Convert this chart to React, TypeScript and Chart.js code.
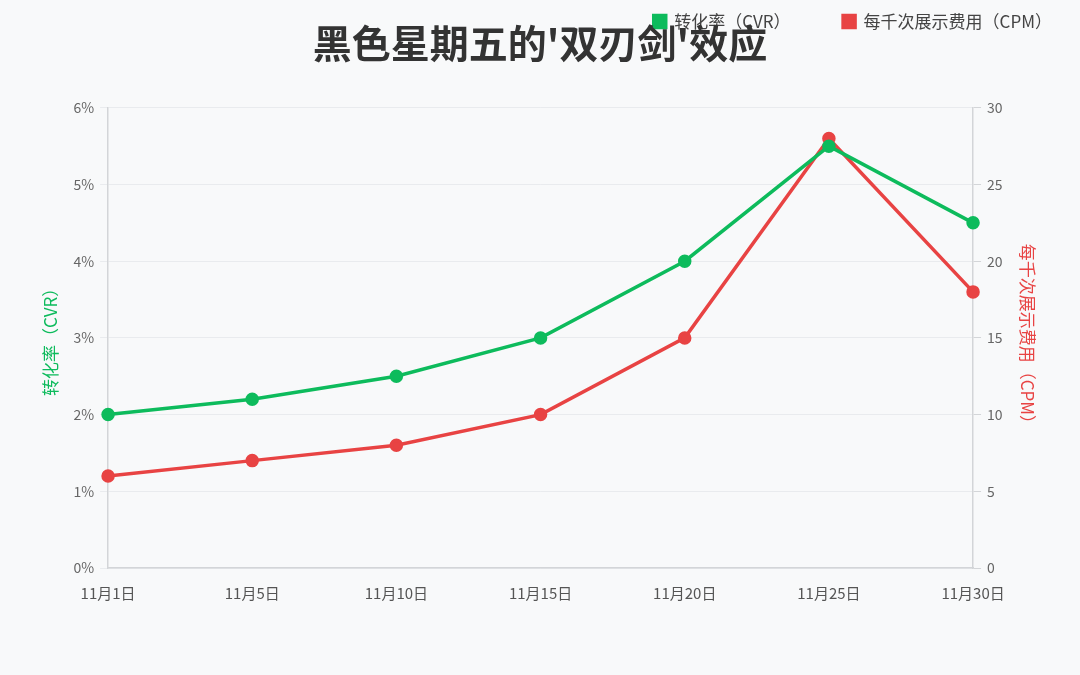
import React, { useEffect, useRef } from "react";
import { Chart, registerables } from "chart.js";

Chart.register(...registerables);

const categories = ["11月1日", "11月5日", "11月10日", "11月15日", "11月20日", "11月25日", "11月30日"];
const cvrValues = [2.0, 2.2, 2.5, 3.0, 4.0, 5.5, 4.5];
const cpmValues = [6, 7, 8, 10, 15, 28, 18];
const cvrLabel = "转化率（CVR）";
const cpmLabel = "每千次展示费用（CPM）";
const titleText = "黑色星期五的'双刃剑'效应";

const GREEN = "#0dbb5c";
const RED = "#e84343";
const FONT = "'Noto Sans CJK SC', sans-serif";

export default function App() {
  const ref = useRef<HTMLCanvasElement | null>(null);

  useEffect(() => {
    document.body.style.margin = "0";
    document.body.style.background = "#f8f9fa";
    const canvas = ref.current;
    if (!canvas) return;
    Chart.defaults.font.family = FONT;
    const chart = new Chart(canvas, {
      type: "line",
      data: {
        labels: categories,
        datasets: [
          {
            label: cvrLabel,
            data: cvrValues,
            yAxisID: "y",
            borderColor: GREEN,
            backgroundColor: GREEN,
            borderWidth: 3.5,
            pointRadius: 5,
            pointBackgroundColor: GREEN,
            pointBorderColor: GREEN,
            tension: 0,
          },
          {
            label: cpmLabel,
            data: cpmValues,
            yAxisID: "y1",
            borderColor: RED,
            backgroundColor: RED,
            borderWidth: 3.5,
            pointRadius: 5,
            pointBackgroundColor: RED,
            pointBorderColor: RED,
            tension: 0,
          },
        ],
      },
      options: {
        animation: false,
        responsive: false,
        maintainAspectRatio: false,
        layout: { padding: { top: 3, left: 18, right: 18, bottom: 65 } },
        plugins: {
          legend: {
            position: "top",
            align: "end",
            weight: 3000,
            labels: {
              boxWidth: 12,
              boxHeight: 12,
              padding: 10,
              color: "#444",
              font: { size: 17, family: FONT },
              generateLabels: (chart: any) => {
                const items = Chart.defaults.plugins.legend.labels.generateLabels(chart);
                return items.map((it: any, i: number) =>
                  i < items.length - 1 ? { ...it, text: it.text + "\u3000\u3000\u3000" } : it
                );
              },
            },
          } as any,
          title: {
            display: true,
            text: titleText,
            color: "#333",
            weight: 500,
            font: { size: 39, weight: "bold", family: FONT },
            padding: { top: -20, bottom: 41 },
          } as any,
          tooltip: { enabled: false },
        },
        scales: {
          x: {
            type: "category",
            offset: false,
            grid: { display: false },
            border: { display: true, color: "#d3d5d8", width: 1.5 },
            ticks: { color: "#555", font: { size: 15 }, padding: 8, maxRotation: 0 },
          },
          y: {
            type: "linear",
            position: "left",
            min: 0,
            max: 6,
            ticks: {
              stepSize: 1,
              color: "#666",
              font: { size: 14 },
              padding: 6,
              callback: (v: any) => v + "%",
            },
            grid: { color: "#e9ebee", lineWidth: 1, tickLength: 8 },
            border: { display: true, color: "#d3d5d8", width: 1.5 },
            title: {
              display: true,
              text: cvrLabel,
              color: GREEN,
              font: { size: 17 },
              padding: { top: 22, bottom: 7 },
            },
          },
          y1: {
            type: "linear",
            position: "right",
            min: 0,
            max: 30,
            ticks: { stepSize: 5, color: "#666", font: { size: 14 }, padding: 6 },
            grid: { drawOnChartArea: false, color: "#d3d5d8", tickLength: 8 },
            border: { display: true, color: "#d3d5d8", width: 1.5 },
            title: {
              display: true,
              text: cpmLabel,
              color: RED,
              font: { size: 17 },
              padding: { top: 24, bottom: 9 },
            },
          },
        },
      },
    });
    return () => chart.destroy();
  }, []);

  return (
    <div style={{ width: 1080, height: 675, background: "#f8f9fa" }}>
      <canvas ref={ref} width={1080} height={675} style={{ display: "block", width: 1080, height: 675 }} />
    </div>
  );
}
